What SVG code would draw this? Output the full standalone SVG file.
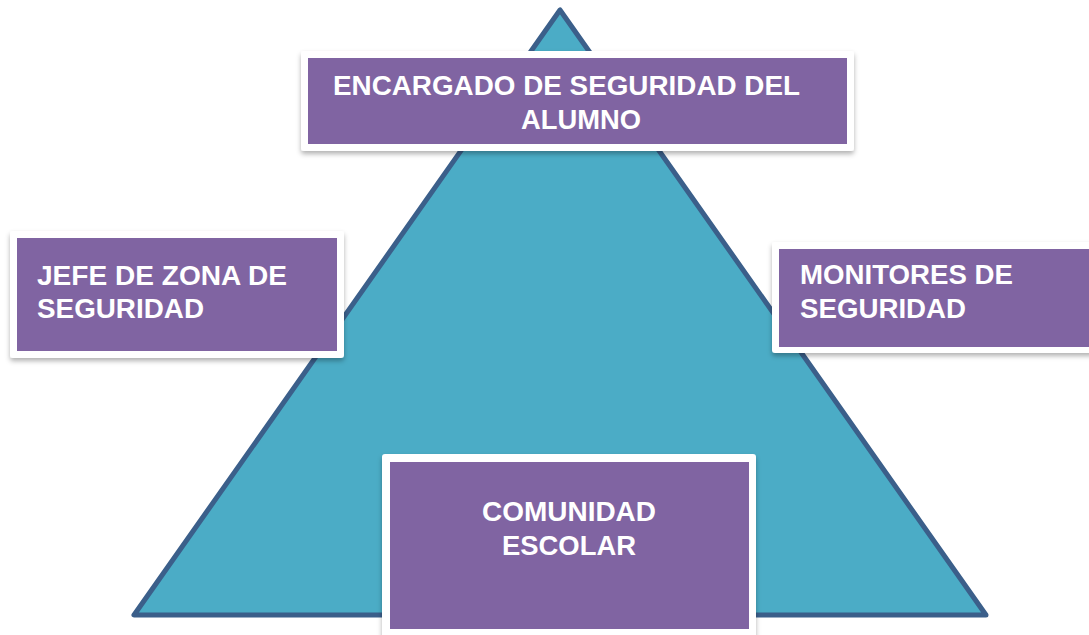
<svg xmlns="http://www.w3.org/2000/svg" width="1089" height="635" viewBox="0 0 1089 635">
<style>
.frame{fill:#ffffff;}
.box{fill:#8064A2;}
.lbl{font-family:"Liberation Sans",Arial,sans-serif;font-weight:bold;font-size:27.5px;fill:#ffffff;}
</style>
<defs>
<filter id="sh" x="-10%" y="-10%" width="120%" height="130%">
<feDropShadow dx="0" dy="3" stdDeviation="2.5" flood-color="#000" flood-opacity="0.3"/>
</filter>
</defs>
<rect width="1089" height="635" fill="#ffffff"/>
<g id="pyramid">
<polygon points="560,10 134,615 986,615" fill="#4BACC6" stroke="#3B5F8A" stroke-width="5" stroke-linejoin="round"/>
</g>
<g id="connectors"></g>
<g id="top">
<rect class="frame" x="301" y="51" width="553" height="100" rx="3" filter="url(#sh)"/>
<rect class="box" x="308" y="58" width="539" height="86"/>
<text class="lbl" x="333" y="95" textLength="467" lengthAdjust="spacingAndGlyphs">ENCARGADO DE SEGURIDAD DEL</text>
<text class="lbl" x="521" y="129" textLength="120" lengthAdjust="spacingAndGlyphs">ALUMNO</text>
</g>
<g id="left">
<rect class="frame" x="10" y="231" width="334" height="127" rx="3" filter="url(#sh)"/>
<rect class="box" x="17" y="238" width="320" height="113"/>
<text class="lbl" x="37" y="285" textLength="250" lengthAdjust="spacingAndGlyphs">JEFE DE ZONA DE</text>
<text class="lbl" x="37" y="318" textLength="167" lengthAdjust="spacingAndGlyphs">SEGURIDAD</text>
</g>
<g id="right">
<rect class="frame" x="772" y="242" width="330" height="111" rx="3" filter="url(#sh)"/>
<rect class="box" x="779" y="249" width="320" height="98"/>
<text class="lbl" x="800" y="284" textLength="213" lengthAdjust="spacingAndGlyphs">MONITORES DE</text>
<text class="lbl" x="800" y="318" textLength="166" lengthAdjust="spacingAndGlyphs">SEGURIDAD</text>
</g>
<g id="bottom">
<rect class="frame" x="382" y="454" width="374" height="190" rx="3" filter="url(#sh)"/>
<rect class="box" x="390" y="462" width="359" height="167"/>
<text class="lbl" x="482" y="521" textLength="174" lengthAdjust="spacingAndGlyphs">COMUNIDAD</text>
<text class="lbl" x="502" y="555" textLength="134" lengthAdjust="spacingAndGlyphs">ESCOLAR</text>
</g>
</svg>
